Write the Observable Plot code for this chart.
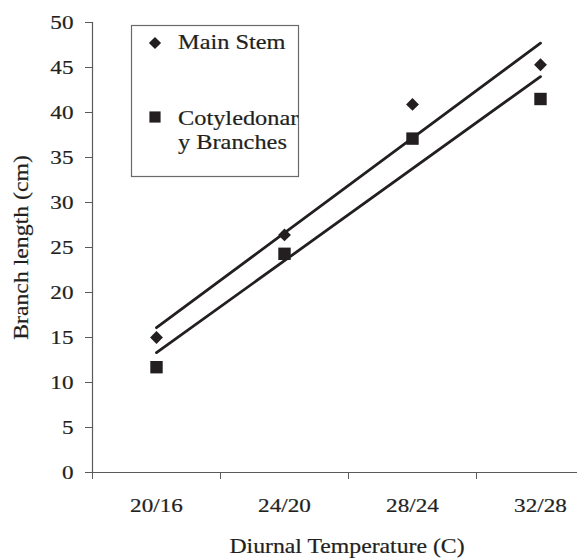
<!DOCTYPE html>
<html><head><meta charset="utf-8">
<script src="https://cdn.jsdelivr.net/npm/d3@7"></script>
<script src="https://cdn.jsdelivr.net/npm/@observablehq/plot@0.6"></script>
<style>
body{margin:0;background:#fff}
#wrap{position:relative;width:577px;height:560px;overflow:hidden}
#legend{position:absolute;left:0;top:0}
</style></head><body><div id="wrap"></div>
<script>
const categories = ["20/16", "24/20", "28/24", "32/28"];
const mainStem = [15.0, 26.4, 40.9, 45.3];
const cotyledonary = [11.7, 24.3, 37.1, 41.5];
const seriesNames = ["Main Stem", "Cotyledonary Branches"];
const legendLines = [["Main Stem"], ["Cotyledonar", "y Branches"]];
const yTicks = [0, 5, 10, 15, 20, 25, 30, 35, 40, 45, 50];
const xTitle = "Diurnal Temperature (C)";
const yTitle = "Branch length (cm)";

const data = [
  ...mainStem.map((v, i) => ({i, value: v, series: seriesNames[0]})),
  ...cotyledonary.map((v, i) => ({i, value: v, series: seriesNames[1]}))
];
const ink = "#231f20";
const axisGray = "#5a5a5a";
const font = "'Liberation Serif', 'Times New Roman', serif";

const plot = Plot.plot({
  width: 577, height: 560,
  marginTop: 22, marginBottom: 88, marginLeft: 92, marginRight: 0,
  style: {fontFamily: font, background: "#fff", color: ink, overflow: "visible"},
  x: {type: "linear", domain: [-0.5, 3.5], range: [92, 604]},
  y: {domain: [0, 50]},
  marks: [
    Plot.ruleY([0], {stroke: axisGray, strokeWidth: 1.2}),
    Plot.ruleX([-0.5], {stroke: axisGray, strokeWidth: 1.2}),
    Plot.axisY({ticks: yTicks, tickSize: 7, tickPadding: 12, fontSize: 19, stroke: axisGray, fill: ink, label: null}),
    Plot.axisX({ticks: [-0.5, 0.5, 1.5, 2.5], tickSize: 7, tickFormat: () => "", stroke: axisGray, label: null}),
    Plot.axisX({ticks: [0, 1, 2, 3], tickSize: 0, tickPadding: 26, tickFormat: i => categories[i], fontSize: 19, fill: ink, label: null}),
    Plot.linearRegressionY(data, {x: "i", y: "value", z: "series", stroke: ink, strokeWidth: 2.8, ci: 0}),
    Plot.dot(data.filter(d => d.series === seriesNames[0]), {x: "i", y: "value", symbol: "diamond2", r: 5.8, fill: ink, stroke: "none"}),
    Plot.dot(data.filter(d => d.series === seriesNames[1]), {x: "i", y: "value", symbol: "square", r: 7, fill: ink, stroke: "none"}),
    Plot.text([xTitle], {frameAnchor: "bottom", lineAnchor: "middle", dy: 73, dx: 12, fontSize: 22, fill: ink}),
    Plot.text([yTitle], {frameAnchor: "left", textAnchor: "middle", lineAnchor: "middle", dx: -72, rotate: -90, fontSize: 22, fill: ink})
  ]
});

function stretch(node, s) {
  let tr = node.getAttribute("transform");
  if (!tr) {
    const x = node.getAttribute("x") || 0, y = node.getAttribute("y") || 0;
    node.removeAttribute("x"); node.removeAttribute("y");
    tr = `translate(${x},${y})`;
  }
  node.setAttribute("transform", tr + ` scale(${s},1)`);
}
d3.select(plot).selectAll("text").each(function() {
  const g = this.closest("g[aria-label]");
  const lab = g ? g.getAttribute("aria-label") : "";
  stretch(this, lab.includes("tick label") ? 1.22 : 1.08);
  this.setAttribute("stroke", ink);
  this.setAttribute("stroke-width", 0.2);
});

const wrap = document.getElementById("wrap");
wrap.appendChild(plot);

// Legend overlay
const lg = d3.create("svg").attr("id", "legend").attr("width", 577).attr("height", 560)
  .style("font-family", font).style("font-size", "21px").attr("fill", ink);
lg.append("rect").attr("x", 131.5).attr("y", 25.5).attr("width", 167).attr("height", 151)
  .attr("fill", "#fff").attr("stroke", "#6a6a6a").attr("stroke-width", 1.2);
lg.append("path").attr("d", d3.symbol(d3.symbolDiamond2, 95)()).attr("transform", "translate(155,43)");
lg.append("path").attr("d", d3.symbol(d3.symbolSquare, 125)()).attr("transform", "translate(155,117)");
const baselines = [[49], [125, 149]];
legendLines.forEach((lines, k) => lines.forEach((t, j) => {
  lg.append("text").attr("transform", `translate(178,${baselines[k][j]}) scale(1.16,1)`)
    .attr("stroke", ink).attr("stroke-width", 0.2).text(t);
}));
wrap.appendChild(lg.node());
</script>
</body></html>
